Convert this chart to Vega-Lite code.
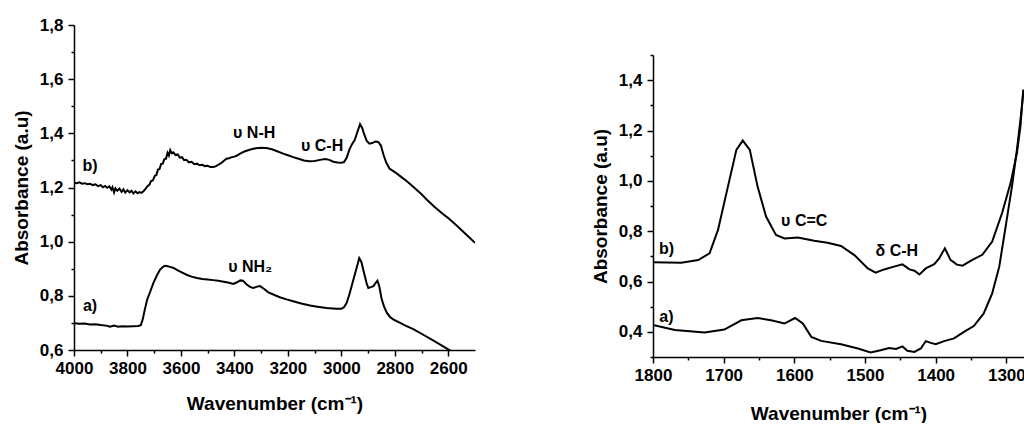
{
  "$schema": "https://vega.github.io/schema/vega-lite/v6.json",
  "background": "white",
  "padding": {"left": 12, "top": 16, "right": 1, "bottom": 0},
  "spacing": 116,
  "datasets": {
    "left": [
      {"wn":4000,"abs":1.218,"s":"b"},{"wn":3990,"abs":1.216,"s":"b"},{"wn":3980,"abs":1.219,"s":"b"},{"wn":3970,"abs":1.214,"s":"b"},{"wn":3960,"abs":1.216,"s":"b"},{"wn":3950,"abs":1.212,"s":"b"},{"wn":3940,"abs":1.214,"s":"b"},{"wn":3930,"abs":1.209,"s":"b"},{"wn":3920,"abs":1.212,"s":"b"},{"wn":3910,"abs":1.205,"s":"b"},{"wn":3900,"abs":1.209,"s":"b"},{"wn":3892,"abs":1.201,"s":"b"},{"wn":3884,"abs":1.206,"s":"b"},{"wn":3876,"abs":1.199,"s":"b"},{"wn":3868,"abs":1.204,"s":"b"},{"wn":3860,"abs":1.192,"s":"b"},{"wn":3856,"abs":1.201,"s":"b"},{"wn":3850,"abs":1.182,"s":"b"},{"wn":3845,"abs":1.197,"s":"b"},{"wn":3838,"abs":1.188,"s":"b"},{"wn":3830,"abs":1.196,"s":"b"},{"wn":3822,"abs":1.184,"s":"b"},{"wn":3815,"abs":1.193,"s":"b"},{"wn":3808,"abs":1.181,"s":"b"},{"wn":3800,"abs":1.190,"s":"b"},{"wn":3792,"abs":1.182,"s":"b"},{"wn":3785,"abs":1.188,"s":"b"},{"wn":3778,"abs":1.178,"s":"b"},{"wn":3770,"abs":1.186,"s":"b"},{"wn":3762,"abs":1.179,"s":"b"},{"wn":3755,"abs":1.183,"s":"b"},{"wn":3748,"abs":1.180,"s":"b"},{"wn":3740,"abs":1.186,"s":"b"},{"wn":3732,"abs":1.196,"s":"b"},{"wn":3725,"abs":1.205,"s":"b"},{"wn":3718,"abs":1.210,"s":"b"},{"wn":3712,"abs":1.224,"s":"b"},{"wn":3705,"abs":1.226,"s":"b"},{"wn":3698,"abs":1.243,"s":"b"},{"wn":3692,"abs":1.246,"s":"b"},{"wn":3686,"abs":1.266,"s":"b"},{"wn":3680,"abs":1.268,"s":"b"},{"wn":3674,"abs":1.287,"s":"b"},{"wn":3668,"abs":1.288,"s":"b"},{"wn":3662,"abs":1.305,"s":"b"},{"wn":3656,"abs":1.306,"s":"b"},{"wn":3650,"abs":1.328,"s":"b"},{"wn":3645,"abs":1.318,"s":"b"},{"wn":3640,"abs":1.338,"s":"b"},{"wn":3634,"abs":1.326,"s":"b"},{"wn":3628,"abs":1.330,"s":"b"},{"wn":3620,"abs":1.320,"s":"b"},{"wn":3612,"abs":1.322,"s":"b"},{"wn":3604,"abs":1.310,"s":"b"},{"wn":3596,"abs":1.312,"s":"b"},{"wn":3588,"abs":1.301,"s":"b"},{"wn":3580,"abs":1.302,"s":"b"},{"wn":3570,"abs":1.293,"s":"b"},{"wn":3560,"abs":1.295,"s":"b"},{"wn":3550,"abs":1.286,"s":"b"},{"wn":3540,"abs":1.288,"s":"b"},{"wn":3530,"abs":1.282,"s":"b"},{"wn":3520,"abs":1.284,"s":"b"},{"wn":3510,"abs":1.279,"s":"b"},{"wn":3500,"abs":1.280,"s":"b"},{"wn":3490,"abs":1.276,"s":"b"},{"wn":3480,"abs":1.276,"s":"b"},{"wn":3470,"abs":1.278,"s":"b"},{"wn":3460,"abs":1.284,"s":"b"},{"wn":3450,"abs":1.290,"s":"b"},{"wn":3440,"abs":1.298,"s":"b"},{"wn":3430,"abs":1.306,"s":"b"},{"wn":3420,"abs":1.308,"s":"b"},{"wn":3410,"abs":1.312,"s":"b"},{"wn":3400,"abs":1.314,"s":"b"},{"wn":3390,"abs":1.318,"s":"b"},{"wn":3380,"abs":1.324,"s":"b"},{"wn":3370,"abs":1.330,"s":"b"},{"wn":3360,"abs":1.334,"s":"b"},{"wn":3340,"abs":1.340,"s":"b"},{"wn":3320,"abs":1.345,"s":"b"},{"wn":3300,"abs":1.347,"s":"b"},{"wn":3280,"abs":1.346,"s":"b"},{"wn":3260,"abs":1.341,"s":"b"},{"wn":3240,"abs":1.334,"s":"b"},{"wn":3220,"abs":1.326,"s":"b"},{"wn":3200,"abs":1.319,"s":"b"},{"wn":3180,"abs":1.312,"s":"b"},{"wn":3160,"abs":1.306,"s":"b"},{"wn":3140,"abs":1.300,"s":"b"},{"wn":3120,"abs":1.297,"s":"b"},{"wn":3100,"abs":1.298,"s":"b"},{"wn":3080,"abs":1.302,"s":"b"},{"wn":3060,"abs":1.305,"s":"b"},{"wn":3045,"abs":1.302,"s":"b"},{"wn":3030,"abs":1.295,"s":"b"},{"wn":3015,"abs":1.292,"s":"b"},{"wn":3000,"abs":1.291,"s":"b"},{"wn":2990,"abs":1.294,"s":"b"},{"wn":2980,"abs":1.310,"s":"b"},{"wn":2970,"abs":1.340,"s":"b"},{"wn":2960,"abs":1.360,"s":"b"},{"wn":2950,"abs":1.375,"s":"b"},{"wn":2940,"abs":1.405,"s":"b"},{"wn":2930,"abs":1.434,"s":"b"},{"wn":2922,"abs":1.420,"s":"b"},{"wn":2914,"abs":1.395,"s":"b"},{"wn":2905,"abs":1.372,"s":"b"},{"wn":2895,"abs":1.362,"s":"b"},{"wn":2885,"abs":1.364,"s":"b"},{"wn":2872,"abs":1.370,"s":"b"},{"wn":2862,"abs":1.368,"s":"b"},{"wn":2852,"abs":1.355,"s":"b"},{"wn":2842,"abs":1.320,"s":"b"},{"wn":2832,"abs":1.292,"s":"b"},{"wn":2820,"abs":1.270,"s":"b"},{"wn":2800,"abs":1.257,"s":"b"},{"wn":2780,"abs":1.242,"s":"b"},{"wn":2756,"abs":1.224,"s":"b"},{"wn":2730,"abs":1.202,"s":"b"},{"wn":2700,"abs":1.175,"s":"b"},{"wn":2681,"abs":1.156,"s":"b"},{"wn":2650,"abs":1.127,"s":"b"},{"wn":2620,"abs":1.102,"s":"b"},{"wn":2600,"abs":1.087,"s":"b"},{"wn":2570,"abs":1.061,"s":"b"},{"wn":2540,"abs":1.033,"s":"b"},{"wn":2500,"abs":0.996,"s":"b"},
      {"wn":4000,"abs":0.699,"s":"a"},{"wn":3980,"abs":0.697,"s":"a"},{"wn":3960,"abs":0.698,"s":"a"},{"wn":3940,"abs":0.694,"s":"a"},{"wn":3920,"abs":0.695,"s":"a"},{"wn":3900,"abs":0.692,"s":"a"},{"wn":3880,"abs":0.690,"s":"a"},{"wn":3865,"abs":0.686,"s":"a"},{"wn":3850,"abs":0.690,"s":"a"},{"wn":3835,"abs":0.686,"s":"a"},{"wn":3820,"abs":0.688,"s":"a"},{"wn":3800,"abs":0.687,"s":"a"},{"wn":3780,"abs":0.688,"s":"a"},{"wn":3760,"abs":0.689,"s":"a"},{"wn":3750,"abs":0.692,"s":"a"},{"wn":3743,"abs":0.713,"s":"a"},{"wn":3735,"abs":0.750,"s":"a"},{"wn":3726,"abs":0.787,"s":"a"},{"wn":3715,"abs":0.815,"s":"a"},{"wn":3703,"abs":0.848,"s":"a"},{"wn":3690,"abs":0.875,"s":"a"},{"wn":3678,"abs":0.897,"s":"a"},{"wn":3668,"abs":0.906,"s":"a"},{"wn":3660,"abs":0.911,"s":"a"},{"wn":3650,"abs":0.909,"s":"a"},{"wn":3640,"abs":0.907,"s":"a"},{"wn":3628,"abs":0.903,"s":"a"},{"wn":3610,"abs":0.893,"s":"a"},{"wn":3595,"abs":0.886,"s":"a"},{"wn":3579,"abs":0.878,"s":"a"},{"wn":3560,"abs":0.871,"s":"a"},{"wn":3540,"abs":0.866,"s":"a"},{"wn":3520,"abs":0.862,"s":"a"},{"wn":3500,"abs":0.860,"s":"a"},{"wn":3480,"abs":0.858,"s":"a"},{"wn":3460,"abs":0.856,"s":"a"},{"wn":3440,"abs":0.852,"s":"a"},{"wn":3420,"abs":0.848,"s":"a"},{"wn":3404,"abs":0.844,"s":"a"},{"wn":3390,"abs":0.850,"s":"a"},{"wn":3378,"abs":0.857,"s":"a"},{"wn":3368,"abs":0.856,"s":"a"},{"wn":3354,"abs":0.842,"s":"a"},{"wn":3340,"abs":0.832,"s":"a"},{"wn":3329,"abs":0.829,"s":"a"},{"wn":3315,"abs":0.834,"s":"a"},{"wn":3304,"abs":0.836,"s":"a"},{"wn":3290,"abs":0.826,"s":"a"},{"wn":3273,"abs":0.813,"s":"a"},{"wn":3250,"abs":0.803,"s":"a"},{"wn":3230,"abs":0.795,"s":"a"},{"wn":3205,"abs":0.787,"s":"a"},{"wn":3180,"abs":0.780,"s":"a"},{"wn":3150,"abs":0.772,"s":"a"},{"wn":3117,"abs":0.764,"s":"a"},{"wn":3090,"abs":0.760,"s":"a"},{"wn":3055,"abs":0.755,"s":"a"},{"wn":3020,"abs":0.752,"s":"a"},{"wn":3000,"abs":0.752,"s":"a"},{"wn":2990,"abs":0.758,"s":"a"},{"wn":2980,"abs":0.774,"s":"a"},{"wn":2970,"abs":0.805,"s":"a"},{"wn":2958,"abs":0.848,"s":"a"},{"wn":2945,"abs":0.895,"s":"a"},{"wn":2933,"abs":0.939,"s":"a"},{"wn":2925,"abs":0.925,"s":"a"},{"wn":2915,"abs":0.884,"s":"a"},{"wn":2905,"abs":0.845,"s":"a"},{"wn":2899,"abs":0.829,"s":"a"},{"wn":2890,"abs":0.832,"s":"a"},{"wn":2880,"abs":0.836,"s":"a"},{"wn":2870,"abs":0.850,"s":"a"},{"wn":2865,"abs":0.856,"s":"a"},{"wn":2858,"abs":0.835,"s":"a"},{"wn":2849,"abs":0.787,"s":"a"},{"wn":2840,"abs":0.760,"s":"a"},{"wn":2830,"abs":0.738,"s":"a"},{"wn":2818,"abs":0.722,"s":"a"},{"wn":2806,"abs":0.713,"s":"a"},{"wn":2780,"abs":0.700,"s":"a"},{"wn":2760,"abs":0.690,"s":"a"},{"wn":2731,"abs":0.677,"s":"a"},{"wn":2700,"abs":0.660,"s":"a"},{"wn":2660,"abs":0.637,"s":"a"},{"wn":2630,"abs":0.620,"s":"a"},{"wn":2600,"abs":0.602,"s":"a"},{"wn":2560,"abs":0.580,"s":"a"},{"wn":2500,"abs":0.545,"s":"a"}
    ],
    "right": [
      {"wn":1800,"abs":0.676,"s":"b"},{"wn":1760,"abs":0.675,"s":"b"},{"wn":1736,"abs":0.685,"s":"b"},{"wn":1720,"abs":0.712,"s":"b"},{"wn":1708,"abs":0.805,"s":"b"},{"wn":1694,"abs":0.977,"s":"b"},{"wn":1682,"abs":1.123,"s":"b"},{"wn":1673,"abs":1.160,"s":"b"},{"wn":1663,"abs":1.123,"s":"b"},{"wn":1652,"abs":0.977,"s":"b"},{"wn":1640,"abs":0.858,"s":"b"},{"wn":1626,"abs":0.785,"s":"b"},{"wn":1614,"abs":0.771,"s":"b"},{"wn":1595,"abs":0.775,"s":"b"},{"wn":1572,"abs":0.762,"s":"b"},{"wn":1553,"abs":0.754,"s":"b"},{"wn":1534,"abs":0.741,"s":"b"},{"wn":1515,"abs":0.705,"s":"b"},{"wn":1496,"abs":0.652,"s":"b"},{"wn":1485,"abs":0.635,"s":"b"},{"wn":1473,"abs":0.648,"s":"b"},{"wn":1459,"abs":0.659,"s":"b"},{"wn":1447,"abs":0.668,"s":"b"},{"wn":1437,"abs":0.648,"s":"b"},{"wn":1430,"abs":0.643,"s":"b"},{"wn":1423,"abs":0.628,"s":"b"},{"wn":1414,"abs":0.652,"s":"b"},{"wn":1402,"abs":0.669,"s":"b"},{"wn":1395,"abs":0.692,"s":"b"},{"wn":1387,"abs":0.732,"s":"b"},{"wn":1379,"abs":0.686,"s":"b"},{"wn":1370,"abs":0.667,"s":"b"},{"wn":1362,"abs":0.663,"s":"b"},{"wn":1348,"abs":0.686,"s":"b"},{"wn":1334,"abs":0.706,"s":"b"},{"wn":1320,"abs":0.759,"s":"b"},{"wn":1306,"abs":0.872,"s":"b"},{"wn":1294,"abs":0.991,"s":"b"},{"wn":1285,"abs":1.111,"s":"b"},{"wn":1280,"abs":1.217,"s":"b"},{"wn":1276,"abs":1.363,"s":"b"},
      {"wn":1800,"abs":0.427,"s":"a"},{"wn":1769,"abs":0.407,"s":"a"},{"wn":1727,"abs":0.397,"s":"a"},{"wn":1699,"abs":0.409,"s":"a"},{"wn":1675,"abs":0.446,"s":"a"},{"wn":1652,"abs":0.455,"s":"a"},{"wn":1633,"abs":0.446,"s":"a"},{"wn":1614,"abs":0.433,"s":"a"},{"wn":1599,"abs":0.455,"s":"a"},{"wn":1588,"abs":0.433,"s":"a"},{"wn":1576,"abs":0.380,"s":"a"},{"wn":1562,"abs":0.364,"s":"a"},{"wn":1534,"abs":0.351,"s":"a"},{"wn":1510,"abs":0.334,"s":"a"},{"wn":1492,"abs":0.318,"s":"a"},{"wn":1478,"abs":0.327,"s":"a"},{"wn":1466,"abs":0.336,"s":"a"},{"wn":1456,"abs":0.332,"s":"a"},{"wn":1447,"abs":0.342,"s":"a"},{"wn":1440,"abs":0.325,"s":"a"},{"wn":1430,"abs":0.320,"s":"a"},{"wn":1421,"abs":0.334,"s":"a"},{"wn":1414,"abs":0.363,"s":"a"},{"wn":1407,"abs":0.356,"s":"a"},{"wn":1400,"abs":0.351,"s":"a"},{"wn":1388,"abs":0.363,"s":"a"},{"wn":1374,"abs":0.374,"s":"a"},{"wn":1360,"abs":0.400,"s":"a"},{"wn":1346,"abs":0.423,"s":"a"},{"wn":1332,"abs":0.473,"s":"a"},{"wn":1320,"abs":0.553,"s":"a"},{"wn":1310,"abs":0.659,"s":"a"},{"wn":1301,"abs":0.818,"s":"a"},{"wn":1292,"abs":0.978,"s":"a"},{"wn":1285,"abs":1.124,"s":"a"},{"wn":1280,"abs":1.243,"s":"a"},{"wn":1276,"abs":1.350,"s":"a"}
    ],
    "leftText": [
      {"wn":3940,"abs":1.280,"t":"b)"},
      {"wn":3940,"abs":0.762,"t":"a)"},
      {"wn":3326,"abs":1.401,"t":"υ N-H"},
      {"wn":3072,"abs":1.353,"t":"υ C-H"},
      {"wn":3341,"abs":0.907,"t":"υ NH₂"}
    ],
    "rightText": [
      {"wn":1781,"abs":0.729,"t":"b)"},
      {"wn":1781,"abs":0.460,"t":"a)"},
      {"wn":1586,"abs":0.841,"t":"υ C=C"},
      {"wn":1455,"abs":0.722,"t":"δ C-H"}
    ],
    "empty": []
  },
  "hconcat": [
    {
      "width": 401,
      "height": 325,
      "layer": [
        {
          "data": {"name": "left"},
          "mark": {"type": "line", "color": "black", "strokeWidth": 2, "clip": true},
          "encoding": {
            "x": {"field": "wn", "type": "quantitative",
              "scale": {"domain": [2500, 4000], "reverse": true, "nice": false, "zero": false},
              "axis": {"title": "Wavenumber (cm⁻¹)",
                "values": [2600,2700,2800,2900,3000,3100,3200,3300,3400,3500,3600,3700,3800,3900,4000],
                "labelExpr": "datum.value % 200 === 0 ? format(datum.value, 'd') : ''",
                "tickSize": {"condition": {"test": "datum.value % 200 === 0", "value": 6}, "value": 3},
                "labelPadding": 4, "titlePadding": 18}},
            "y": {"field": "abs", "type": "quantitative",
              "scale": {"domain": [0.6, 1.8], "nice": false, "zero": false},
              "axis": {"title": "Absorbance (a.u)",
                "values": [0.6,0.7,0.8,0.9,1.0,1.1,1.2,1.3,1.4,1.5,1.6,1.7,1.8],
                "labelExpr": "round(datum.value*10) % 2 === 0 ? replace(format(datum.value, '.1f'), '.', ',') : ''",
                "tickSize": {"condition": {"test": "round(datum.value*10) % 2 === 0", "value": 6}, "value": 3},
                "labelPadding": 5, "titlePadding": 8}},
            "detail": {"field": "s"}
          }
        },
        {
          "data": {"name": "leftText"},
          "mark": {"type": "text", "font": "Liberation Sans", "fontWeight": "bold", "fontSize": 16, "color": "black", "align": "center", "baseline": "middle"},
          "encoding": {
            "x": {"field": "wn", "type": "quantitative"},
            "y": {"field": "abs", "type": "quantitative"},
            "text": {"field": "t"}
          }
        }
      ]
    },
    {
      "spacing": 20,
      "vconcat": [
        {
          "width": 371,
          "height": 1,
          "data": {"name": "empty"},
          "mark": "point"
        },
        {
          "width": 371,
          "height": 302,
          "layer": [
            {
              "data": {"name": "right"},
              "mark": {"type": "line", "color": "black", "strokeWidth": 2, "clip": true},
              "encoding": {
                "x": {"field": "wn", "type": "quantitative",
                  "scale": {"domain": [1275, 1800], "reverse": true, "nice": false, "zero": false},
                  "axis": {"title": "Wavenumber (cm⁻¹)",
                    "values": [1300,1350,1400,1450,1500,1550,1600,1650,1700,1750,1800],
                    "labelExpr": "datum.value % 100 === 0 ? format(datum.value, 'd') : ''",
                    "tickSize": {"condition": {"test": "datum.value % 100 === 0", "value": 6}, "value": 3},
                    "labelPadding": 4, "titlePadding": 21}},
                "y": {"field": "abs", "type": "quantitative",
                  "scale": {"domain": [0.3, 1.5], "nice": false, "zero": false},
                  "axis": {"title": "Absorbance (a.u)",
                    "values": [0.3,0.4,0.5,0.6,0.7,0.8,0.9,1.0,1.1,1.2,1.3,1.4,1.5],
                    "labelExpr": "round(datum.value*10) % 2 === 0 ? replace(format(datum.value, '.1f'), '.', ',') : ''",
                    "tickSize": {"condition": {"test": "round(datum.value*10) % 2 === 0", "value": 6}, "value": 3},
                    "labelPadding": 5, "titlePadding": 8}},
                "detail": {"field": "s"}
              }
            },
            {
              "data": {"name": "rightText"},
              "mark": {"type": "text", "font": "Liberation Sans", "fontWeight": "bold", "fontSize": 16, "color": "black", "align": "center", "baseline": "middle"},
              "encoding": {
                "x": {"field": "wn", "type": "quantitative"},
                "y": {"field": "abs", "type": "quantitative"},
                "text": {"field": "t"}
              }
            }
          ]
        }
      ]
    }
  ],
  "config": {
    "view": {"stroke": null},
    "axis": {
      "domainColor": "black", "domainWidth": 1.5, "tickColor": "black", "tickWidth": 1.5,
      "labelFont": "Liberation Sans", "labelFontWeight": "bold", "labelFontSize": 17, "labelColor": "black",
      "titleFont": "Liberation Sans", "titleFontWeight": "bold", "titleFontSize": 19, "titleColor": "black",
      "grid": false, "labelOverlap": false, "labelFlush": false, "labelBound": false, "tickCount": 1000
    }
  }
}
